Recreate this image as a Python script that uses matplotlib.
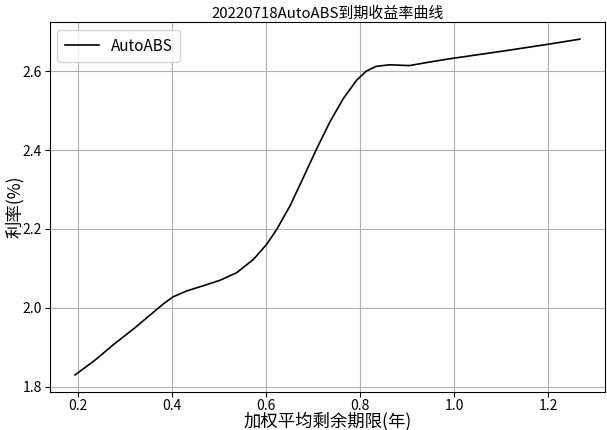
import matplotlib
matplotlib.use("Agg")
import matplotlib.pyplot as plt

plt.rcParams['font.family'] = ['Noto Sans CJK SC', 'DejaVu Sans']
plt.rcParams['axes.unicode_minus'] = False

# 加权平均剩余期限(年) 与 利率(%)，从曲线上读取
期限 = [0.193, 0.234, 0.276, 0.319, 0.361, 0.382, 0.402, 0.431, 0.466, 0.502,
        0.537, 0.573, 0.601, 0.622, 0.651, 0.679, 0.707, 0.736, 0.764, 0.792,
        0.813, 0.834, 0.863, 0.905, 0.948, 0.989, 1.100, 1.200, 1.268]
利率 = [1.830, 1.866, 1.908, 1.948, 1.990, 2.011, 2.028, 2.043, 2.056, 2.070,
        2.089, 2.123, 2.161, 2.198, 2.259, 2.330, 2.402, 2.472, 2.530, 2.576,
        2.600, 2.612, 2.616, 2.614, 2.623, 2.631, 2.650, 2.668, 2.681]

fig = plt.figure(figsize=(6.07, 4.3), dpi=100)
ax = fig.add_axes([0.082, 0.089, 0.915, 0.859])
ax.plot(期限, 利率, color='black', linewidth=1.2, label='AutoABS')
ax.grid(True, color='#b0b0b0', linewidth=0.8)
ax.set_title('20220718AutoABS到期收益率曲线', fontsize=10.8, pad=3)
ax.set_xlabel('加权平均剩余期限(年)', fontsize=12.5, labelpad=-1)
ax.set_ylabel('利率(%)', fontsize=12.5, labelpad=-1)
ax.set_yticks([1.8, 2.0, 2.2, 2.4, 2.6])
ax.tick_params(labelsize=10, pad=2)
ax.legend(loc='upper left', fontsize=11, borderpad=0.5, handlelength=2.2)

fig.savefig('out.png', dpi=100)
